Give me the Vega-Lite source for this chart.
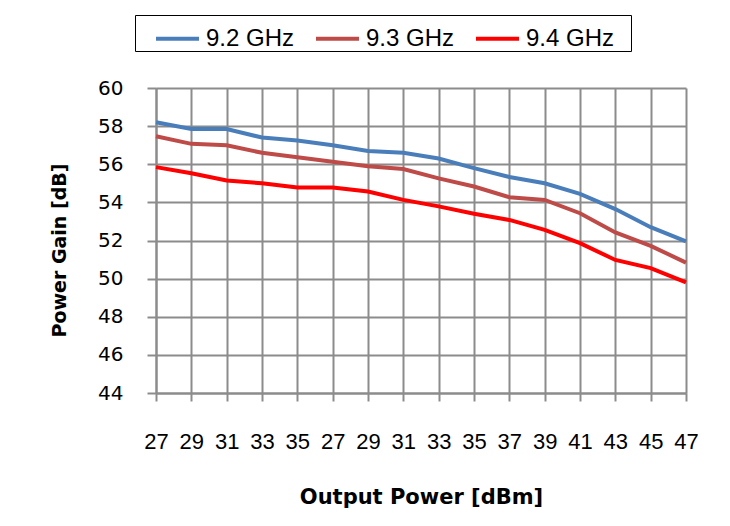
{
  "$schema": "https://vega.github.io/schema/vega-lite/v6.json",
  "width": 530,
  "height": 305,
  "autosize": {"type": "none"},
  "padding": {"left": 156, "top": 88, "right": 44, "bottom": 133},
  "background": "white",
  "config": {
    "view": {"stroke": null},
    "axis": {
      "gridColor": "#8c8c8c",
      "gridWidth": 2,
      "domainColor": "#8c8c8c",
      "domainWidth": 2,
      "tickColor": "#8c8c8c",
      "tickWidth": 2,
      "labelColor": "black",
      "titleColor": "black"
    }
  },
  "data": {
    "values": [
      {"i": 0, "f": "9.2 GHz", "g": 58.2},
      {"i": 1, "f": "9.2 GHz", "g": 57.85},
      {"i": 2, "f": "9.2 GHz", "g": 57.85},
      {"i": 3, "f": "9.2 GHz", "g": 57.4},
      {"i": 4, "f": "9.2 GHz", "g": 57.25},
      {"i": 5, "f": "9.2 GHz", "g": 57.0},
      {"i": 6, "f": "9.2 GHz", "g": 56.7},
      {"i": 7, "f": "9.2 GHz", "g": 56.6},
      {"i": 8, "f": "9.2 GHz", "g": 56.3},
      {"i": 9, "f": "9.2 GHz", "g": 55.8},
      {"i": 10, "f": "9.2 GHz", "g": 55.33},
      {"i": 11, "f": "9.2 GHz", "g": 55.0},
      {"i": 12, "f": "9.2 GHz", "g": 54.45},
      {"i": 13, "f": "9.2 GHz", "g": 53.65},
      {"i": 14, "f": "9.2 GHz", "g": 52.7},
      {"i": 15, "f": "9.2 GHz", "g": 51.95},
      {"i": 0, "f": "9.3 GHz", "g": 57.47},
      {"i": 1, "f": "9.3 GHz", "g": 57.07},
      {"i": 2, "f": "9.3 GHz", "g": 57.0},
      {"i": 3, "f": "9.3 GHz", "g": 56.6},
      {"i": 4, "f": "9.3 GHz", "g": 56.37},
      {"i": 5, "f": "9.3 GHz", "g": 56.13},
      {"i": 6, "f": "9.3 GHz", "g": 55.9},
      {"i": 7, "f": "9.3 GHz", "g": 55.75},
      {"i": 8, "f": "9.3 GHz", "g": 55.26},
      {"i": 9, "f": "9.3 GHz", "g": 54.83},
      {"i": 10, "f": "9.3 GHz", "g": 54.27},
      {"i": 11, "f": "9.3 GHz", "g": 54.13},
      {"i": 12, "f": "9.3 GHz", "g": 53.43},
      {"i": 13, "f": "9.3 GHz", "g": 52.42},
      {"i": 14, "f": "9.3 GHz", "g": 51.72},
      {"i": 15, "f": "9.3 GHz", "g": 50.84},
      {"i": 0, "f": "9.4 GHz", "g": 55.85},
      {"i": 1, "f": "9.4 GHz", "g": 55.53},
      {"i": 2, "f": "9.4 GHz", "g": 55.15},
      {"i": 3, "f": "9.4 GHz", "g": 55.0},
      {"i": 4, "f": "9.4 GHz", "g": 54.78},
      {"i": 5, "f": "9.4 GHz", "g": 54.78},
      {"i": 6, "f": "9.4 GHz", "g": 54.57},
      {"i": 7, "f": "9.4 GHz", "g": 54.13},
      {"i": 8, "f": "9.4 GHz", "g": 53.79},
      {"i": 9, "f": "9.4 GHz", "g": 53.4},
      {"i": 10, "f": "9.4 GHz", "g": 53.08},
      {"i": 11, "f": "9.4 GHz", "g": 52.56},
      {"i": 12, "f": "9.4 GHz", "g": 51.86},
      {"i": 13, "f": "9.4 GHz", "g": 50.98},
      {"i": 14, "f": "9.4 GHz", "g": 50.55},
      {"i": 15, "f": "9.4 GHz", "g": 49.8}
    ]
  },
  "mark": {"type": "line", "strokeWidth": 4},
  "encoding": {
    "x": {
      "field": "i",
      "type": "ordinal",
      "scale": {"type": "point", "padding": 0},
      "axis": {
        "title": "Output Power [dBm]",
        "labelExpr": "['27','29','31','33','35','27','29','31','33','35','37','39','41','43','45','47'][datum.value]",
        "labelAngle": 0,
        "labelFont": "Liberation Sans",
        "labelFontSize": 22,
        "labelBaseline": "top",
        "labelPadding": 30,
        "tickSize": 8,
        "grid": true,
        "titleFont": "DejaVu Sans",
        "titleFontWeight": "bold",
        "titleFontSize": 21,
        "titleBaseline": "middle",
        "titleX": 265,
        "titleY": 104
      }
    },
    "y": {
      "field": "g",
      "type": "quantitative",
      "scale": {"domain": [44, 60], "nice": false, "zero": false},
      "axis": {
        "title": "Power Gain [dB]",
        "values": [44, 46, 48, 50, 52, 54, 56, 58, 60],
        "labelFont": "DejaVu Sans",
        "labelFontSize": 20,
        "labelPadding": 24,
        "tickSize": 9,
        "titleFont": "DejaVu Sans",
        "titleFontWeight": "bold",
        "titleFontSize": 19,
        "titleAngle": -90,
        "titleAlign": "center",
        "titleBaseline": "middle",
        "titleX": -97,
        "titleY": 162
      }
    },
    "color": {
      "field": "f",
      "type": "nominal",
      "scale": {
        "domain": ["9.2 GHz", "9.3 GHz", "9.4 GHz"],
        "range": ["#4a7ebb", "#be4b48", "#ff0000"]
      },
      "legend": {
        "title": " ",
        "titleOrient": "right",
        "titlePadding": 17,
        "titleFontSize": 10,
        "orient": "none",
        "direction": "horizontal",
        "columns": 3,
        "legendX": -21,
        "legendY": -73,
        "padding": 0,
        "strokeColor": "black",
        "symbolType": "stroke",
        "symbolSize": 1849,
        "symbolStrokeWidth": 4,
        "symbolOffset": 19,
        "labelFont": "Liberation Sans",
        "labelFontSize": 24,
        "labelOffset": 5,
        "columnPadding": 0
      }
    }
  }
}
